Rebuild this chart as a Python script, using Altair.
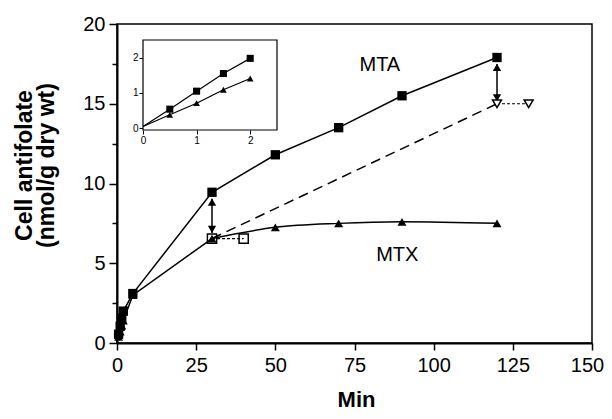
import altair as alt
import pandas as pd

# ---------------- main panel data ----------------
mta_t = [0, 0.5, 1, 1.5, 2, 5, 30, 50, 70, 90, 120]
mta_v = [0.05, 0.55, 1.05, 1.55, 2.0, 3.1, 9.45, 11.8, 13.5, 15.5, 17.9]
mtx_t = [0, 0.5, 1, 1.5, 2, 5, 30, 50, 70, 90, 120]
mtx_v = [0.05, 0.38, 0.71, 1.09, 1.41, 3.0, 6.55, 7.25, 7.5, 7.6, 7.5]
wash_mtx_t = [30, 40]
wash_mtx_v = [6.55, 6.55]
wash_mta_t = [120, 130]
wash_mta_v = [15.0, 15.0]
proj_t = [30, 120]
proj_v = [6.55, 15.0]
arrow_t = [30, 120]
arrow_lo = [6.9, 15.15]
arrow_hi = [9.05, 17.5]
label_text = ["MTA", "MTX"]
label_t = [83, 88.5]
label_v = [17.4, 5.5]
x_ticks = [0, 25, 50, 75, 100, 125, 150]
y_ticks = [0, 2.5, 5, 7.5, 10, 12.5, 15, 17.5, 20]

# ---------------- inset data ----------------
in_t = [0, 0.5, 1, 1.5, 2]
in_mta = [0.05, 0.54, 1.05, 1.55, 1.98]
in_mtx = [0.05, 0.38, 0.71, 1.09, 1.41]
in_ticks = [0, 1, 2]
in_box = {"x0": [0], "x1": [2.5], "y0": [-0.05], "y1": [2.5]}

FONT = "Liberation Sans"
W, H = 475, 319

mta = pd.DataFrame({"t": mta_t, "v": mta_v})
mtx = pd.DataFrame({"t": mtx_t, "v": mtx_v})
wmtx = pd.DataFrame({"t": wash_mtx_t, "v": wash_mtx_v})
wmta = pd.DataFrame({"t": wash_mta_t, "v": wash_mta_v})
proj = pd.DataFrame({"t": proj_t, "v": proj_v})
arr = pd.DataFrame({"t": arrow_t, "lo": arrow_lo, "hi": arrow_hi})
labs = pd.DataFrame({"txt": label_text, "t": label_t, "v": label_v})

xs = alt.Scale(domain=[0, 150], nice=False, zero=False)
ys = alt.Scale(domain=[0, 20], nice=False, zero=False)

x_axis = alt.Axis(
    values=x_ticks, title="Min", titleFontSize=22, titleFontWeight="bold",
    titleX=239, titleY=63, titleBaseline="alphabetic",
    labelFontSize=20, labelPadding=5, labelFlush=False, labelOverlap=False,
    labelOffset={"condition": {"test": "datum.value === 150", "value": -5}, "value": 0},
    tickSize=7, tickWidth=1.5, domainWidth=2, grid=False,
)
y_axis = alt.Axis(
    values=y_ticks, title=["Cell antifolate", "(nmol/g dry wt)"],
    titleFontSize=23, titleFontWeight="bold", titleLineHeight=22,
    titleAngle=270, titleBaseline="bottom", titleX=-81, titleY=141,
    labelExpr="datum.value % 5 === 0 ? datum.label : ''",
    labelFontSize=20, labelPadding=4, labelOverlap=False, labelFlush=False,
    tickSize={"condition": {"test": "datum.value % 5 === 0", "value": 8}, "value": 5},
    tickWidth=1.5, domainWidth=2, grid=False,
)

X = alt.X("t:Q", scale=xs, axis=x_axis)
Y = alt.Y("v:Q", scale=ys, axis=y_axis)

mta_line = alt.Chart(mta).mark_line(color="black", strokeWidth=1.5).encode(x=X, y=Y)
mtx_line_a = alt.Chart(mtx).transform_filter("datum.t <= 30").mark_line(
    color="black", strokeWidth=1.5).encode(x=X, y=Y)
mtx_line_b = alt.Chart(mtx).transform_filter("datum.t >= 30").mark_line(
    color="black", strokeWidth=1.5, interpolate="monotone").encode(x=X, y=Y)
proj_line = alt.Chart(proj).mark_line(color="black", strokeWidth=1.5, strokeDash=[10, 6]).encode(x=X, y=Y)
wmtx_line = alt.Chart(wmtx).mark_line(color="black", strokeWidth=1.2, strokeDash=[3, 2]).encode(x=X, y=Y)
wmta_line = alt.Chart(wmta).mark_line(color="black", strokeWidth=1.2, strokeDash=[3, 2]).encode(x=X, y=Y)

mta_pts = alt.Chart(mta).transform_filter("datum.t > 0").mark_point(
    shape="square", filled=True, color="black", size=87, opacity=1).encode(x=X, y=Y)
mtx_pts = alt.Chart(mtx).transform_filter("datum.t > 0").mark_point(
    shape="triangle-up", filled=True, color="black", size=80, opacity=1).encode(x=X, y=Y)
wmtx_pts = alt.Chart(wmtx).mark_point(
    shape="square", filled=True, fill="white", stroke="black", strokeWidth=1.5, size=85, opacity=1,
    fillOpacity=0).encode(x=X, y=Y)
wmta_pts = alt.Chart(wmta).mark_point(
    shape="triangle-down", filled=True, fill="white", stroke="black", strokeWidth=1.5, size=80,
    opacity=1).encode(x=X, y=Y)

arrow_rule = alt.Chart(arr).mark_rule(color="black", strokeWidth=1.5).encode(
    x=X, y=alt.Y("lo:Q", scale=ys, axis=y_axis), y2="hi:Q")
arrow_up = alt.Chart(arr).mark_point(
    shape="triangle-up", filled=True, color="black", size=70, opacity=1, yOffset=3.5).encode(
    x=X, y=alt.Y("hi:Q", scale=ys, axis=y_axis))
arrow_dn = alt.Chart(arr).mark_point(
    shape="triangle-down", filled=True, color="black", size=70, opacity=1, yOffset=-3.5).encode(
    x=X, y=alt.Y("lo:Q", scale=ys, axis=y_axis))

labels = alt.Chart(labs).mark_text(font=FONT, fontSize=20, color="black").encode(
    x=X, y=Y, text="txt:N")

main = alt.layer(
    proj_line, wmtx_line, wmta_line, mta_line, mtx_line_a, mtx_line_b,
    arrow_rule, arrow_up, arrow_dn,
    mtx_pts, wmtx_pts, mta_pts, wmta_pts, labels,
)

# ---------------- inset ----------------
ixs = alt.Scale(domain=[0, 2.5], range=[26, 160], nice=False, zero=False)
iys = alt.Scale(domain=[-0.05, 2.5], range=[106, 16], nice=False, zero=False)
ix_axis = alt.Axis(values=in_ticks, orient="bottom", offset=-213, title=None,
                   labelFontSize=10, labelPadding=1, labelFlush=False, labelOverlap=False,
                   tickSize=4, tickWidth=1, domain=False, grid=False)
iy_axis = alt.Axis(values=in_ticks, orient="left", offset=-26, title=None,
                   labelFontSize=10, labelPadding=1, labelFlush=False, labelOverlap=False,
                   tickSize=4, tickWidth=1, domain=False, grid=False)

inset_df = pd.DataFrame({"t": in_t, "mta": in_mta, "mtx": in_mtx})
box_df = pd.DataFrame(in_box)

IX = alt.X("t:Q", scale=ixs, axis=ix_axis)
box = alt.Chart(box_df).mark_rect(fill="white", stroke="black", strokeWidth=1.2).encode(
    x=alt.X("x0:Q", scale=ixs, axis=ix_axis), x2="x1:Q",
    y=alt.Y("y0:Q", scale=iys, axis=iy_axis), y2="y1:Q")
i_mta_line = alt.Chart(inset_df).mark_line(color="black", strokeWidth=1.2).encode(
    x=IX, y=alt.Y("mta:Q", scale=iys, axis=iy_axis))
i_mtx_line = alt.Chart(inset_df).mark_line(color="black", strokeWidth=1.2).encode(
    x=IX, y=alt.Y("mtx:Q", scale=iys, axis=iy_axis))
i_mta_pts = alt.Chart(inset_df).transform_filter("datum.t > 0").mark_point(
    shape="square", filled=True, color="black", size=50, opacity=1).encode(
    x=IX, y=alt.Y("mta:Q", scale=iys, axis=iy_axis))
i_mtx_pts = alt.Chart(inset_df).transform_filter("datum.t > 0").mark_point(
    shape="triangle-up", filled=True, color="black", size=45, opacity=1).encode(
    x=IX, y=alt.Y("mtx:Q", scale=iys, axis=iy_axis))

inset = alt.layer(box, i_mta_line, i_mtx_line, i_mta_pts, i_mtx_pts)

chart = alt.layer(main, inset).resolve_scale(x="independent", y="independent").properties(
    width=W, height=H,
    autosize=alt.AutoSizeParams(type="none"),
    padding={"left": 109, "top": 16, "right": 12, "bottom": 68},
    background="white",
).configure_view(stroke="black", strokeWidth=1.5).configure_axis(
    labelFont=FONT, titleFont=FONT, labelColor="black", titleColor="black",
    domainColor="black", tickColor="black",
)

chart.save("out.html", embed_options={"renderer": "svg", "actions": False})
